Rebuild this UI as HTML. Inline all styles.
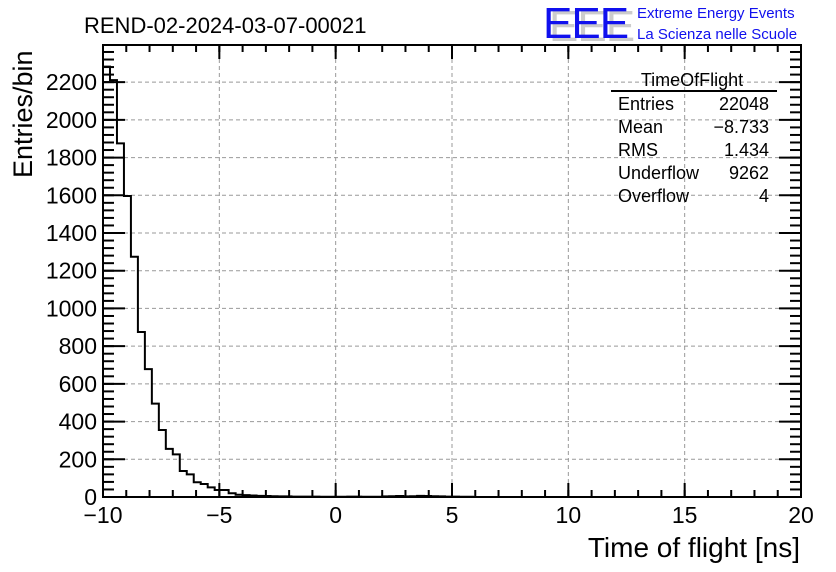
<!DOCTYPE html>
<html><head><meta charset="utf-8"><style>
body{margin:0;background:#fff;}
svg{display:block;font-family:"Liberation Sans",sans-serif;}
</style></head><body>
<svg id="c" width="836" height="572">
<text x="84" y="33" font-size="22">REND-02-2024-03-07-00021</text>
<g>
<text x="549" y="41" font-size="44" fill="#ccc" letter-spacing="-1">EEE</text>
<text x="543" y="38" font-size="44" fill="#1010ee" letter-spacing="-1">EEE</text>
<text x="637" y="18" font-size="15" fill="#1010ee">Extreme Energy Events</text>
<text x="637" y="39" font-size="15" fill="#1010ee">La Scienza nelle Scuole</text>
</g>
<g id="grid"></g><g id="axes"></g>
<path id="hist" fill="none" stroke="#000" stroke-width="2"/>
<rect x="103" y="45" width="698" height="452" fill="none" stroke="#000" stroke-width="2"/>
<text x="800" y="557" font-size="28" text-anchor="end">Time of flight [ns]</text>
<text transform="translate(32,178) rotate(-90)" font-size="27">Entries/bin</text>
<g font-size="18">
<text x="692" y="86" text-anchor="middle">TimeOfFlight</text>
<line x1="611" y1="91" x2="777" y2="91" stroke="#000" stroke-width="2"/>
<text x="618" y="110">Entries</text><text x="769" y="110" text-anchor="end">22048</text>
<text x="618" y="133">Mean</text><text x="769" y="133" text-anchor="end">−8.733</text>
<text x="618" y="156">RMS</text><text x="769" y="156" text-anchor="end">1.434</text>
<text x="618" y="179">Underflow</text><text x="769" y="179" text-anchor="end">9262</text>
<text x="618" y="202">Overflow</text><text x="769" y="202" text-anchor="end">4</text>
</g>
</svg>
<script>
const binStart=-10, binWidth=0.3;
const counts=[2282,2211,1875,1596,1274,875,678,495,355,255,226,138,120,78,69,51,37,37,20,12,10,8,6,5,4,3,3,2,2,2,2,1,1,1,1,2,2,1,1,1,3,4,5,3,4,6,5,4,3,2,2,1,1,0,0,0,0,0,0,0,0,0,0,0,0,0,0,0,0,0,0,0,0,0,0,0,0,0,0,0,0,0,0,0,0,0,0,0,0,0,0,0,0,0,0,0,0,0,0,0];
const xTicks=[-10,-5,0,5,10,15,20];
const xTickLabels=["−10","−5","0","5","10","15","20"];
const yTicks=[0,200,400,600,800,1000,1200,1400,1600,1800,2000,2200];
const X0=103,X1=801,Y0=497,YT=45,XMIN=-10,XMAX=20,YMAX=2397;
function sx(v){return X0+(v-XMIN)/(XMAX-XMIN)*(X1-X0);}
function sy(v){return Y0-v/YMAX*(Y0-YT);}
const NS="http://www.w3.org/2000/svg";
function mk(t,a,p){const e=document.createElementNS(NS,t);for(const k in a)e.setAttribute(k,a[k]);p.appendChild(e);return e;}
const grid=document.getElementById('grid'),axes=document.getElementById('axes');
xTicks.forEach((v,i)=>{
 const x=sx(v);
 if(i>0&&i<xTicks.length-1){const g=mk('line',{x1:x,x2:x,y1:YT,y2:Y0,stroke:'#999','stroke-dasharray':'4,3'},grid);
 
 }
 mk('line',{x1:x,x2:x,y1:Y0,y2:Y0-14,stroke:'#000','stroke-width':2},axes);
 mk('line',{x1:x,x2:x,y1:YT,y2:YT+14,stroke:'#000','stroke-width':2},axes);
 const t=mk('text',{x:x,y:523,'font-size':23,'text-anchor':'middle'},axes);t.textContent=xTickLabels[i];
 
 
});
for(let v=XMIN;v<=XMAX;v+=1){const x=sx(v);
 mk('line',{x1:x,x2:x,y1:Y0,y2:Y0-7,stroke:'#000','stroke-width':2},axes);
 mk('line',{x1:x,x2:x,y1:YT,y2:YT+7,stroke:'#000','stroke-width':2},axes);}
yTicks.forEach(v=>{
 const y=sy(v);
 if(v>0){const g=mk('line',{x1:X0,x2:X1,y1:y,y2:y,stroke:'#999','stroke-dasharray':'4,3'},grid);
 
 }
 mk('line',{x1:X0,x2:X0+22,y1:y,y2:y,stroke:'#000','stroke-width':2},axes);
 mk('line',{x1:X1,x2:X1-22,y1:y,y2:y,stroke:'#000','stroke-width':2},axes);
 const t=mk('text',{x:97,y:y+8,'font-size':23,'text-anchor':'end'},axes);t.textContent=v;
 
 
});
for(let v=0;v<YMAX;v+=40){const y=sy(v);
 mk('line',{x1:X0,x2:X0+11,y1:y,y2:y,stroke:'#000','stroke-width':2},axes);
 mk('line',{x1:X1,x2:X1-11,y1:y,y2:y,stroke:'#000','stroke-width':2},axes);}
let d='M'+sx(binStart)+','+sy(0);
counts.forEach((c,i)=>{const a=sx(binStart+i*binWidth),b=sx(binStart+(i+1)*binWidth);d+=' L'+a+','+sy(c)+' L'+b+','+sy(c);});
document.getElementById('hist').setAttribute('d',d);
</script>
</body></html>
